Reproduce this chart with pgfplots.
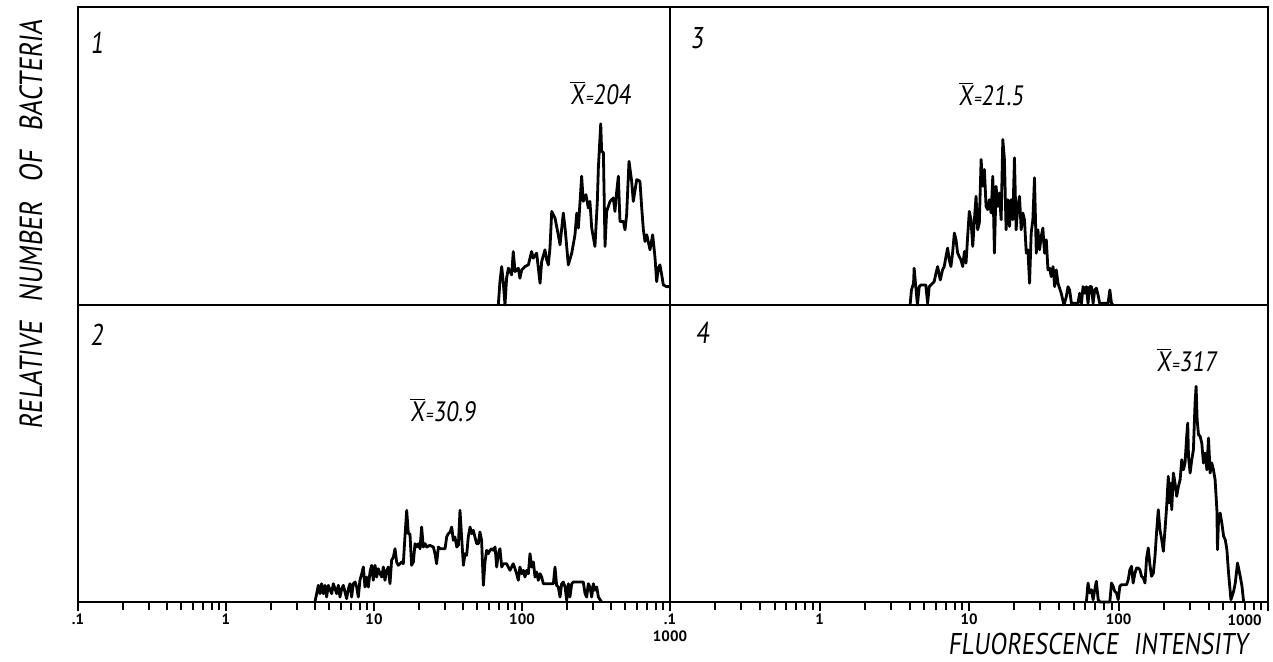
\documentclass[border=0pt]{standalone}
\usepackage{fontspec}
\setmainfont{PT Sans}
\newfontfamily\hand[FakeStretch=0.82,FakeSlant=0.12]{PT Sans}
\usepackage{pgfplots}
\pgfplotsset{compat=1.18}
\pgfplotsset{
  panel/.style={scale only axis, axis line style={line width=1.4pt},
    xmin=-1, xmax=3, ymin=0, ymax=297, ytick=\empty, clip=false,
    anchor=south west},
  histo/.style={black, line width=1.4pt, line join=round, mark=none},
  bottomticks/.style={xtick={-1,0,1,2,3}, xtick pos=left, tick align=outside,
    major tick length=4.5pt, minor tick length=4pt,
    every tick/.style={black, line width=1pt},
    minor xtick={-0.699,-0.523,-0.398,-0.301,-0.222,-0.155,-0.097,-0.046,
      0.301,0.477,0.602,0.699,0.778,0.845,0.903,0.954,
      1.301,1.477,1.602,1.699,1.778,1.845,1.903,1.954,
      2.301,2.477,2.602,2.699,2.778,2.845,2.903,2.954},
    xticklabel style={font=\bfseries\fontsize{7.5}{7.5}\selectfont, inner sep=1pt}}
}
\tikzset{
  numlab/.style={font=\hand\fontsize{15}{15}\selectfont, anchor=center},
  meanlab/.style={font=\hand\fontsize{14}{14}\selectfont, anchor=center},
  ticklab/.style={font=\bfseries\fontsize{7.5}{7.5}\selectfont, inner sep=1pt}
}
\newcommand{\xbar}{$\overline{\mbox{X}}$\kern0.5pt{\fontsize{9}{9}\selectfont=}}
\begin{document}
\begin{tikzpicture}
\useasboundingbox (0,0) rectangle (636.5pt,330.5pt);
% ---------- panel 1 (top left)
\begin{axis}[panel, at={(39pt,178pt)}, width=296pt, height=149pt, xtick=\empty]
\addplot[histo] coordinates {
(1.840,0)(1.851,23.3)(1.863,38.3)(1.874,21.7)(1.885,0)(1.896,26.7)(1.908,36.7)
(1.930,30)(1.941,53.3)(1.953,33.3)(1.975,36.7)(1.986,26.7)(1.998,35)(2.020,38.3)
(2.043,40)(2.065,53.3)(2.076,46.7)(2.099,51.7)(2.122,21.7)(2.133,43.3)(2.155,55)
(2.167,45)(2.178,40)(2.189,56.7)(2.201,93.3)(2.223,86.7)(2.245,70)(2.257,60)
(2.279,91.7)(2.291,76.7)(2.313,40)(2.336,51.7)(2.358,70)(2.370,91.7)(2.381,76.7)
(2.403,128.3)(2.414,103.3)(2.432,110)(2.448,96.7)(2.459,103.3)(2.471,76.7)
(2.493,58.3)(2.509,103.3)(2.516,136.7)(2.532,180.7)(2.538,153.3)(2.550,151.7)
(2.561,58.3)(2.572,93.3)(2.595,103.3)(2.617,106.7)(2.628,93.3)(2.640,113.3)
(2.651,128.3)(2.662,83.3)(2.685,83.3)(2.696,75)(2.707,90)(2.723,143.3)
(2.741,123.3)(2.752,103.3)(2.775,125)(2.797,123.3)(2.809,96.7)(2.820,75)
(2.831,63.3)(2.843,70)(2.865,55)(2.883,70)(2.899,46.7)(2.910,23.3)(2.921,36.7)
(2.932,40)(2.944,30)(2.955,20)(2.977,18.3)(3.000,18.3)};
\node[numlab] at (rel axis cs:0.032,0.88) {1};
\node[meanlab] at (axis cs:2.53,211) {\xbar204};
\end{axis}
% ---------- panel 3 (top right)
\begin{axis}[panel, at={(335pt,178pt)}, width=299pt, height=149pt, xtick=\empty]
\addplot[histo] coordinates {
(0.606,0)(0.615,15)(0.629,21.7)(0.633,36.7)(0.644,18.3)(0.655,0)(0.667,18.3)
(0.678,20)(0.711,20)(0.723,1.7)(0.734,18.3)(0.745,20)(0.767,23.3)(0.779,31.7)
(0.790,38.3)(0.808,25)(0.823,35)(0.834,38.3)(0.846,48.3)(0.857,56.7)(0.868,45)
(0.879,38.3)(0.890,51.7)(0.902,71.7)(0.913,65)(0.924,51.7)(0.946,45)(0.958,38.3)
(0.969,53.3)(0.980,41.7)(0.991,68.3)(1.002,93.3)(1.013,85)(1.025,58.3)(1.036,85)
(1.047,108.3)(1.058,75)(1.069,81.7)(1.081,145)(1.092,118.3)(1.103,135)(1.114,98.3)
(1.125,95)(1.136,105)(1.148,91.7)(1.159,128.3)(1.170,51.7)(1.181,118.3)(1.192,98.3)
(1.203,111.7)(1.215,85)(1.226,165)(1.237,145)(1.248,75)(1.260,105)(1.271,78.3)
(1.282,105)(1.293,85)(1.304,146.7)(1.315,75)(1.327,98.3)(1.338,108.3)(1.349,75)
(1.360,91.7)(1.371,85)(1.383,51.7)(1.394,55)(1.405,21.7)(1.416,71.7)(1.427,85)
(1.438,126.7)(1.450,51.7)(1.461,75)(1.472,55)(1.483,68.3)(1.494,76.7)(1.505,51.7)
(1.517,65)(1.528,35)(1.539,36.7)(1.550,28.3)(1.562,38.3)(1.573,18.3)(1.584,35)
(1.595,21.7)(1.617,11.7)(1.635,0)(1.651,8.3)(1.662,18.3)(1.673,15)(1.685,1.7)
(1.707,1.7)(1.729,1.7)(1.740,11.7)(1.752,1.7)(1.763,18.3)(1.774,11.7)(1.785,18.3)
(1.796,1.7)(1.807,18.3)(1.819,18.3)(1.830,1.7)(1.841,15)(1.852,16.7)(1.863,10)
(1.874,1.7)(1.908,1.7)(1.930,1.7)(1.942,15)(1.953,1.7)(1.964,0)};
\node[numlab] at (rel axis cs:0.045,0.895) {3};
\node[meanlab] at (axis cs:1.148,210) {\xbar21.5};
\end{axis}
% ---------- panel 2 (bottom left)
\begin{axis}[panel, bottomticks, at={(39pt,29.5pt)}, width=296pt, height=148.5pt,
  xticklabels={.1,1,10,100,{}}]
\addplot[histo] coordinates {
(0.601,0)(0.624,16.7)(0.635,8.3)(0.646,18.3)(0.658,8.3)(0.669,16.7)(0.680,5)
(0.691,16.7)(0.714,8.3)(0.725,18.3)(0.748,8.3)(0.759,16.7)(0.770,5)(0.782,13.3)
(0.793,16.7)(0.815,3.3)(0.827,13.3)(0.838,18.3)(0.849,5)(0.860,18.3)(0.872,20)
(0.883,15)(0.894,5)(0.905,21.7)(0.917,28.3)(0.928,35)(0.939,15)(0.950,25)
(0.962,15)(0.973,30)(0.984,36.7)(0.995,21.7)(1.007,36.7)(1.018,25)(1.029,33.3)
(1.041,28.3)(1.052,25)(1.063,35)(1.074,21.7)(1.086,31.7)(1.097,35)(1.108,18.3)
(1.119,41.7)(1.131,45)(1.142,53.3)(1.153,40)(1.164,36.7)(1.176,38.3)(1.187,40)
(1.198,38.3)(1.209,65)(1.221,91.7)(1.232,68.3)(1.243,68.3)(1.254,36.7)(1.266,40)
(1.277,58.3)(1.288,55)(1.299,58.3)(1.311,53.3)(1.322,75)(1.333,55)(1.345,58.3)
(1.356,55)(1.378,56.7)(1.401,55)(1.412,48.3)(1.423,38.3)(1.435,55)(1.446,53.3)
(1.468,53.3)(1.480,53.3)(1.491,65)(1.502,68.3)(1.514,70)(1.525,75)(1.536,61.7)
(1.547,65)(1.559,55)(1.570,56.7)(1.581,91.7)(1.592,65)(1.604,36.7)(1.615,48.3)
(1.626,46.7)(1.637,65)(1.649,75)(1.660,68.3)(1.671,71.7)(1.682,65)(1.694,58.3)
(1.705,58.3)(1.716,70)(1.727,61.7)(1.739,16.7)(1.750,40)(1.761,51.7)(1.772,48.3)
(1.784,51.7)(1.795,53.3)(1.806,51.7)(1.818,55)(1.829,35)(1.840,48.3)(1.851,53.3)
(1.863,35)(1.874,38.3)(1.896,38.3)(1.919,31.7)(1.941,38.3)(1.964,28.3)(1.975,21.7)
(1.986,35)(1.998,28.3)(2.009,31.7)(2.020,25)(2.032,31.7)(2.043,28.3)(2.054,48.3)
(2.066,35)(2.077,40)(2.088,25)(2.099,30)(2.110,21.7)(2.122,28.3)(2.133,25)
(2.144,18.3)(2.167,18.3)(2.189,18.3)(2.212,18.3)(2.223,35)(2.234,16.7)(2.245,15)
(2.257,5)(2.268,18.3)(2.279,20)(2.291,15)(2.302,1.7)(2.313,18.3)(2.324,5)
(2.336,18.3)(2.347,20)(2.414,20)(2.426,8.3)(2.437,5)(2.448,18.3)(2.459,15)
(2.471,5)(2.482,18.3)(2.493,11.7)(2.505,15)(2.516,5)(2.538,0)};
\node[numlab] at (rel axis cs:0.032,0.9) {2};
\node[meanlab] at (axis cs:1.466,192) {\xbar30.9};
\node[ticklab, anchor=north] at ([yshift=-13pt]rel axis cs:1,0) {1000};
\end{axis}
% ---------- panel 4 (bottom right)
\begin{axis}[panel, bottomticks, at={(335pt,29.5pt)}, width=299pt, height=148.5pt,
  xticklabels={.1,1,10,100,{}}]
\addplot[histo] coordinates {
(1.785,0)(1.796,19)(1.807,9)(1.819,12.3)(1.830,2.3)(1.841,12.3)(1.852,20.7)
(1.864,2.3)(1.875,0)(1.942,0)(1.953,19)(1.964,15.7)(1.975,10.7)(1.987,9)
(1.998,2.3)(2.009,15.7)(2.020,17.3)(2.054,17.3)(2.065,22.3)(2.076,32.3)(2.087,35.7)
(2.098,19)(2.110,29)(2.121,34)(2.132,34)(2.143,32.3)(2.154,25.7)(2.166,24)
(2.177,19)(2.188,44)(2.199,54)(2.210,37.3)(2.221,25.7)(2.233,29)(2.244,45.7)
(2.255,70.7)(2.266,92.3)(2.277,72.3)(2.289,62.3)(2.300,50.7)(2.311,72.3)
(2.322,95.7)(2.333,125.7)(2.338,99)(2.345,109)(2.351,119)(2.356,92.3)(2.367,129)
(2.378,119)(2.389,105.7)(2.401,115.7)(2.412,122.3)(2.423,142.3)(2.434,132.3)
(2.445,139)(2.456,165.7)(2.463,179)(2.468,145.7)(2.479,129)(2.490,142.3)
(2.501,152.3)(2.512,199)(2.519,215.7)(2.526,182.3)(2.535,167.3)(2.546,165.7)
(2.557,159)(2.568,139)(2.579,149)(2.591,132.3)(2.602,164)(2.613,129)(2.624,139)
(2.635,132.3)(2.646,122.3)(2.658,92.3)(2.662,52.3)(2.669,82.3)(2.680,89)
(2.691,79)(2.703,65.7)(2.714,62.3)(2.725,52.3)(2.736,29)(2.752,2.3)(2.770,10.7)
(2.781,19)(2.796,39)(2.814,25.7)(2.826,15.7)(2.837,0)};
\node[numlab] at (rel axis cs:0.054,0.905) {4};
\node[meanlab] at (axis cs:2.456,242) {\xbar317};
\node[ticklab, anchor=north east] at ([xshift=-2pt,yshift=-5pt]rel axis cs:1,0) {1000};
\end{axis}
% ---------- axis titles
\node[rotate=90, font=\hand\fontsize{16}{16}\selectfont] at (15.5pt,218pt)
  {RELATIVE\hspace{0.6em}NUMBER\hspace{0.6em}OF\hspace{0.6em}BACTERIA};
\node[font=\hand\fontsize{15}{15}\selectfont, inner sep=0pt] at (549pt,8.5pt)
  {FLUORESCENCE\hspace{0.5em}INTENSITY};
\end{tikzpicture}
\end{document}
